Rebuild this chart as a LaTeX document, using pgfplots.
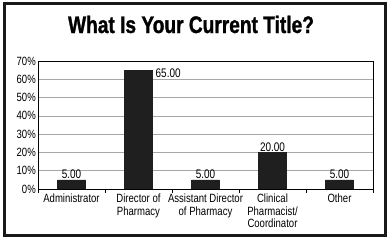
\documentclass[border=0pt]{standalone}
\usepackage{fontspec}
\setmainfont[FakeStretch=0.8]{Liberation Sans}
\newfontfamily\titlefont[FakeStretch=0.8,FakeBold=1.2]{Liberation Sans}
\usepackage{pgfplots}
\pgfplotsset{compat=1.18}
\begin{document}
\begin{tikzpicture}[x=1bp,y=1bp]
\path[use as bounding box] (0,0) rectangle (391,240);
\draw[line width=3bp, color=black!90] (4.5,4.5) rectangle (385,236);
\node[anchor=base, inner sep=0pt, font=\titlefont\bfseries\fontsize{24}{26}\selectfont] at (191,207) {What Is Your Current Title?};
\begin{axis}[
  at={(38bp,51bp)}, anchor=south west,
  scale only axis, width=335bp, height=128bp,
  xmin=-0.5, xmax=4.5, ymin=0, ymax=70,
  ytick={0,10,...,70},
  yticklabel={\pgfmathprintnumber{\tick}\%},
  ymajorgrids, grid style={gray!70, line width=0.6bp},
  ytick style={draw=none},
  xtick={-0.5,0.5,...,4.5},
  x tick label as interval,
  xticklabels={Administrator,Director of\\Pharmacy,Assistant Director\\of Pharmacy,Clinical\\Pharmacist/\\Coordinator,Other,},
  xticklabel style={align=center, anchor=north, font=\fontsize{12}{12.5}\selectfont, inner sep=1bp, yshift=0bp},
  yticklabel style={font=\fontsize{12}{13}\selectfont, inner sep=1bp, xshift=-1bp},
  xtick pos=bottom,
  major tick length=4bp, xtick style={black, line width=0.6bp},
  axis line style={black, line width=0.8bp},
  /pgf/number format/assume math mode=true,
  ybar, bar width=28bp, bar shift=0pt,
  nodes near coords={\pgfmathprintnumber[fixed,fixed zerofill,precision=2]{\pgfplotspointmeta}},
  nodes near coords style={font=\fontsize{12.5}{13}\selectfont, inner sep=1bp, text=black},
]
\addplot[fill=black!88, draw=black!88] coordinates {(0,5) (2,5) (3,20) (4,5)};
\addplot[fill=black!88, draw=black!88,
  every node near coord/.append style={anchor=north west, xshift=16bp, yshift=3bp}] coordinates {(1,65)};
\end{axis}
\end{tikzpicture}
\end{document}
